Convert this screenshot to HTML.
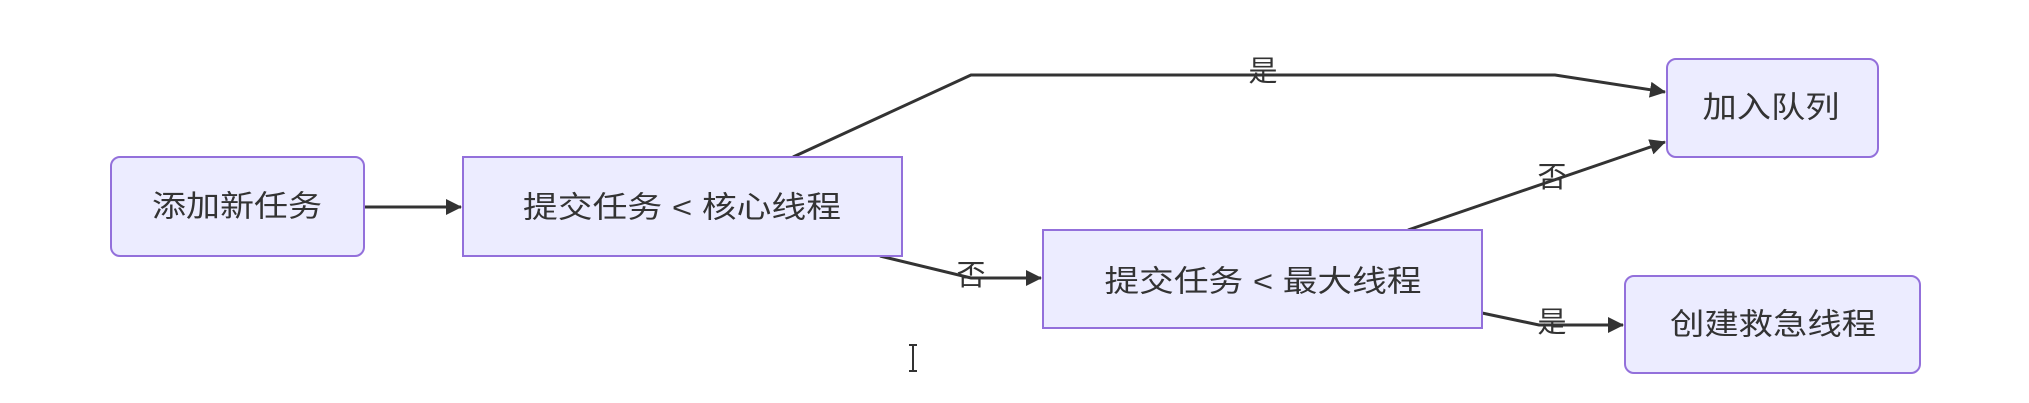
<!DOCTYPE html>
<html><head><meta charset="utf-8"><style>
html,body{margin:0;padding:0;background:#fff;}
svg{display:block;}
text{font-family:"Liberation Sans","Noto Sans CJK SC",sans-serif;fill:#333;font-size:30px;}
</style></head><body>
<svg width="2029" height="403" viewBox="0 0 2029 403" xmlns="http://www.w3.org/2000/svg">
<defs>
<marker id="a" markerWidth="16" markerHeight="16" refX="15" refY="8" orient="auto" markerUnits="userSpaceOnUse">
<path d="M0,0 L16,8 L0,16 z" fill="#333"/>
</marker>
</defs>
<g fill="none" stroke="#333" stroke-width="3">
<path d="M364,207 L461,207" marker-end="url(#a)"/>
<path d="M793,157 L971,75 L1555,75 L1665,92" marker-end="url(#a)"/>
<path d="M880,256 L971,278 L1041,278" marker-end="url(#a)"/>
<path d="M1408,230 L1665,142" marker-end="url(#a)"/>
<path d="M1482,313 L1539,325 L1623,325" marker-end="url(#a)"/>
</g>
<g fill="#ECECFF" stroke="#9370DB" stroke-width="2">
<rect x="111" y="157" width="253" height="99" rx="9"/>
<rect x="463" y="157" width="439" height="99"/>
<rect x="1667" y="59" width="211" height="98" rx="9"/>
<rect x="1043" y="230" width="439" height="98"/>
<rect x="1625" y="276" width="295" height="97" rx="9"/>
</g>
<g text-anchor="middle" dominant-baseline="central">
<text x="237" y="207" textLength="170" lengthAdjust="spacingAndGlyphs">添加新任务</text>
<text x="682" y="208" textLength="318" lengthAdjust="spacingAndGlyphs">提交任务 &lt; 核心线程</text>
<text x="1263" y="282" textLength="317" lengthAdjust="spacingAndGlyphs">提交任务 &lt; 最大线程</text>
<text x="1771" y="108" textLength="137" lengthAdjust="spacingAndGlyphs">加入队列</text>
<text x="1773" y="325" textLength="206" lengthAdjust="spacingAndGlyphs">创建救急线程</text>
<text x="1263" y="72" style="font-size:29px">是</text>
<text x="1552" y="178" style="font-size:29px">否</text>
<text x="971" y="276" style="font-size:29px">否</text>
<text x="1552" y="323" style="font-size:29px">是</text>
</g>
<g stroke="#333" stroke-width="2" fill="none">
<path d="M913,345 L913,371 M909,345 L917,345 M909,371 L917,371"/>
</g>
</svg>
</body></html>
